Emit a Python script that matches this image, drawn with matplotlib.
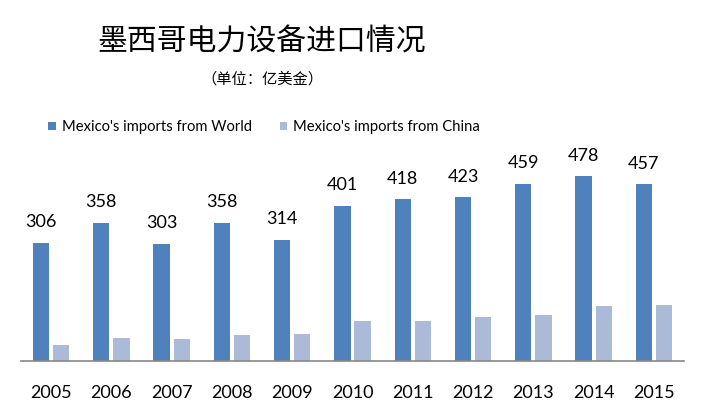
import matplotlib.pyplot as plt
import numpy as np

# data (亿美金)
years = ["2005", "2006", "2007", "2008", "2009", "2010",
         "2011", "2012", "2013", "2014", "2015"]
world = [306, 358, 303, 358, 314, 401, 418, 423, 459, 478, 457]
china = [41, 59, 57, 67, 70, 103, 103, 114, 119, 142, 145]

plt.rcParams['font.family'] = ['Lato', 'DejaVu Sans']

fig = plt.figure(figsize=(7.06, 4.13), dpi=100)
ax = fig.add_axes([0.0297, 0.126, 0.9393, 0.468])

x = np.arange(len(years))
w = 0.27
b1 = ax.bar(x - 0.167, world, w, color="#4F81BD", label="Mexico's imports from World")
b2 = ax.bar(x + 0.167, china, w, color="#AABAD7", label="Mexico's imports from China")

for rect, v in zip(b1, world):
    ax.annotate(str(v), (rect.get_x() + rect.get_width() / 2, v),
                xytext=(0, 9), textcoords="offset points",
                ha="center", va="bottom", fontsize=13)

ax.set_xlim(-0.5, len(years) - 0.5)
ax.set_ylim(0, 500)
ax.set_xticks(x)
ax.set_xticklabels(years, fontsize=13)
ax.tick_params(axis="x", length=0, pad=17)
ax.set_yticks([])
for s in ["top", "right", "left"]:
    ax.spines[s].set_visible(False)
ax.spines["bottom"].set_color("#888888")
ax.spines["bottom"].set_linewidth(1.2)

fig.text(0.371, 0.898, "墨西哥电力设备进口情况", ha="center", va="center",
         fontsize=21.5, fontweight="medium",
         family=["Noto Sans CJK SC", "DejaVu Sans"])
fig.text(0.371, 0.808, "（单位：亿美金）", ha="center", va="center",
         fontsize=11, family=["Noto Sans CJK SC", "DejaVu Sans"])

fig.legend(loc="center", bbox_to_anchor=(0.374, 0.692), ncol=2, frameon=False,
           fontsize=10.6, handlelength=0.5, handleheight=0.5,
           handletextpad=0.4, columnspacing=1.9)

fig.savefig("out.png", dpi=100)
